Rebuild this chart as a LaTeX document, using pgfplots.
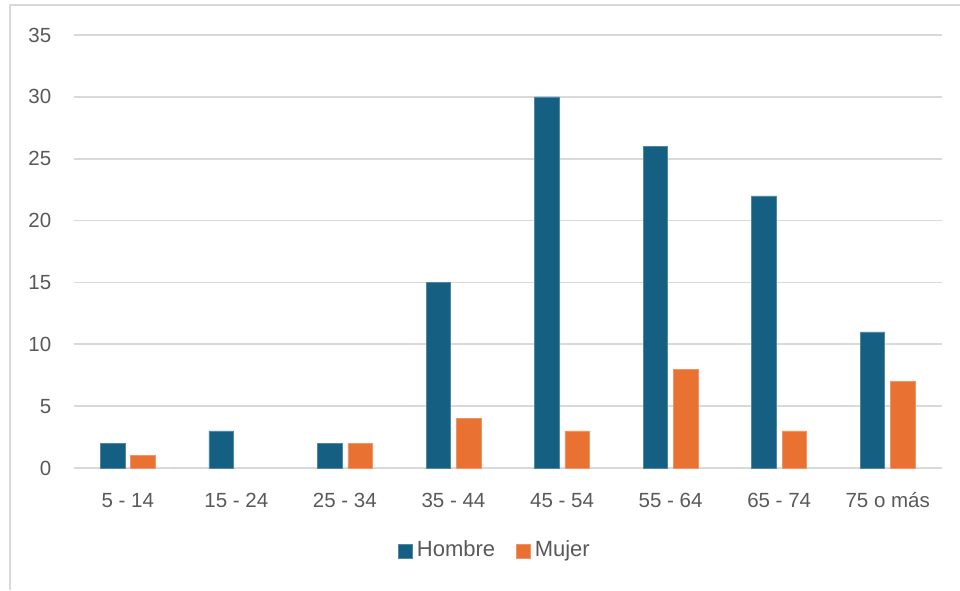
\documentclass[border=0pt]{standalone}
\usepackage{fontspec}
\setmainfont{Liberation Sans}
\usepackage{pgfplots}
\pgfplotsset{compat=1.18}
\definecolor{hombre}{HTML}{156082}
\definecolor{mujer}{HTML}{E97132}
\definecolor{txt}{HTML}{595959}
\definecolor{gridc}{HTML}{D9D9D9}
\begin{document}
\begin{tikzpicture}[x=1pt,y=1pt]
\path[use as bounding box] (0,0) rectangle (960,590);
\draw[gridc, line width=1.5pt] (10,0) -- (10,585) -- (960,585);
\begin{axis}[
  at={(73.5pt,122pt)}, anchor=south west,
  scale only axis, width=868.5pt, height=433pt,
  ybar,
  xmin=-0.5, xmax=7.5, ymin=0, ymax=35,
  xtick={0,...,7},
  xticklabels={5 - 14,15 - 24,25 - 34,35 - 44,45 - 54,55 - 64,65 - 74,75 o más},
  ytick={0,5,...,35},
  axis line style={draw=none},
  major tick length=0pt,
  ymajorgrids,
  grid style={gridc, line width=1.8pt},
  /pgf/number format/assume math mode=true,
  tick label style={font=\fontsize{20.5}{24}\selectfont, text=txt},
  yticklabel style={inner sep=0pt, xshift=-22pt},
  xticklabel style={anchor=base, inner sep=0pt, yshift=-39pt},
  legend columns=2,
  legend style={draw=none, inner sep=0pt, at={(0.4842,-0.188)}, anchor=center,
    font=\fontsize{22}{26}\selectfont, text=txt,
    nodes={inner sep=0pt},
    /tikz/every odd column/.append style={column sep=4pt},
    /tikz/every even column/.append style={column sep=21pt}},
  legend image code/.code={\fill[#1] (0pt,-8.5pt) rectangle (14pt,5.5pt);},
]
\addplot[fill=hombre, draw=hombre!75!white, line width=0.6pt, bar width=24.5pt, bar shift=-15.2pt]
  coordinates {(0,2) (1,3) (2,2) (3,15) (4,30) (5,26) (6,22) (7,11)};
\addplot[fill=mujer, draw=mujer!75!white, line width=0.6pt, bar width=24.5pt, bar shift=15.2pt]
  coordinates {(0,1) (2,2) (3,4) (4,3) (5,8) (6,3) (7,7)};
\legend{Hombre,Mujer}
\end{axis}
\end{tikzpicture}
\end{document}
